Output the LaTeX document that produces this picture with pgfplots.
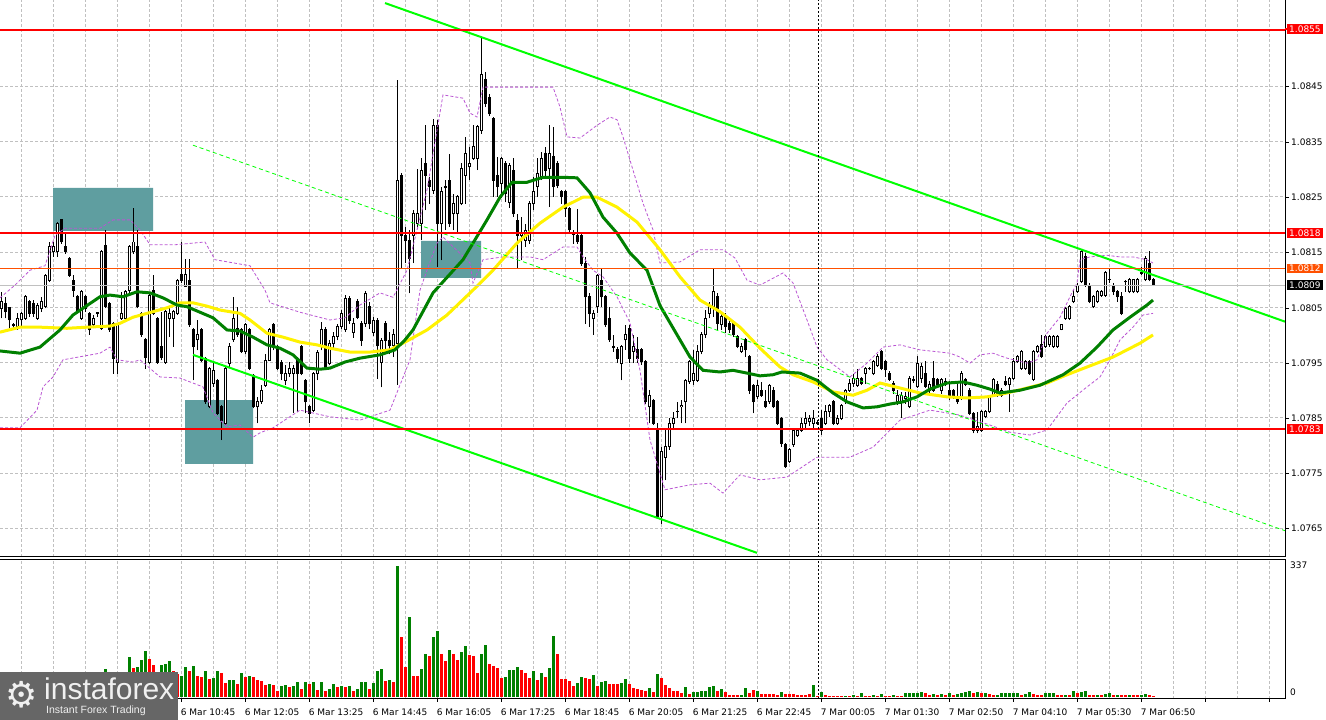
\documentclass[border=0pt]{standalone}
\usepackage{pgfplots}
\pgfplotsset{compat=1.18}
\usepackage{pgfplotstable}
\usepackage{fontspec}
\setmainfont{DejaVu Sans}
\newfontfamily\logofont{Liberation Sans}
\definecolor{tealbox}{RGB}{95,158,160}
\definecolor{gridc}{RGB}{192,192,192}
\definecolor{bandc}{RGB}{186,85,211}
\definecolor{maG}{RGB}{0,128,0}
\definecolor{limeC}{RGB}{0,255,0}
\definecolor{orng}{RGB}{255,80,0}
\definecolor{logog}{RGB}{102,102,102}
\definecolor{volG}{RGB}{0,128,0}
\pgfplotsset{mainax/.style={at={(0pt,163pt)}, anchor=south west, x=1pt, y=5.531pt, disabledatascaling,
  xmin=0, xmax=1285, ymin=59.85, ymax=160.55, axis line style={draw=none}}}
% price columns o h l c are in pips above 1.0700, v = tick volume, g = 1 green / 0 red volume bar
\pgfplotstableread{
i o h l c v g
0 104.8 107.8 103.0 106.0 30 1
1 105.7 106.9 103.0 104.2 45 1
2 104.9 105.1 101.2 102.7 38 0
3 101.8 102.1 101.2 101.7 25 0
4 101.5 103.9 100.9 103.0 40 1
5 102.7 104.2 101.2 103.9 52 1
6 103.0 107.2 102.7 106.9 35 0
7 106.0 106.3 103.3 103.9 28 0
8 105.7 106.3 103.3 103.9 44 1
9 103.0 105.7 102.7 105.4 50 1
10 104.8 106.9 104.2 106.0 33 0
11 105.1 111.1 104.8 110.8 41 1
12 109.9 116.8 109.6 115.9 55 1
13 115.0 116.8 114.1 115.9 47 0
14 115.0 120.5 114.1 120.2 60 1
15 120.9 121.0 116.5 116.8 58 0
16 115.9 118.4 114.7 115.0 42 0
17 113.8 114.1 110.5 110.8 36 0
18 109.9 110.8 106.9 108.1 48 1
19 106.9 107.2 103.9 104.2 39 0
20 103.0 108.1 102.7 107.8 31 0
21 106.9 107.2 104.2 104.8 45 1
22 103.9 104.2 100.0 100.9 50 1
23 101.8 103.6 101.2 103.0 38 0
24 103.9 104.2 103.3 104.0 44 1
25 101.2 115.3 100.9 115.0 41 0
26 116.1 119.0 104.8 105.1 72 1
27 105.7 106.0 100.6 100.9 40 0
28 102.1 102.4 93.0 95.7 55 1
29 95.1 102.1 93.0 101.8 50 0
30 103.0 107.8 102.7 103.9 45 0
31 103.0 108.1 102.7 107.8 58 1
32 108.1 116.2 107.2 115.9 103 1
33 115.0 122.9 114.7 116.8 74 0
34 115.9 119.0 104.8 105.1 77 1
35 103.9 104.2 99.7 100.0 95 1
36 99.1 99.4 93.9 96.0 118 1
37 95.1 107.5 94.8 107.2 98 0
38 108.1 110.8 103.6 103.9 82 0
39 103.0 103.3 94.8 95.1 60 0
40 97.9 104.2 95.4 96.0 82 1
41 95.1 104.5 94.8 104.2 85 1
42 103.0 104.8 99.7 103.9 93 1
43 103.0 104.5 97.9 104.2 67 0
44 103.9 110.2 103.6 109.9 58 0
45 110.9 116.8 109.3 109.9 54 1
46 108.8 113.8 108.7 110.9 77 1
47 109.9 113.8 101.5 101.8 67 0
48 100.9 101.2 91.8 97.9 80 1
49 99.1 102.7 97.2 100.0 54 0
50 100.9 101.2 95.1 95.4 51 0
51 95.7 96.0 87.6 87.9 67 1
52 87.0 94.2 86.7 93.9 46 0
53 91.2 95.1 90.6 93.6 49 1
54 91.8 92.1 85.5 85.8 67 1
55 87.0 87.3 81.0 84.6 62 0
56 84.0 94.2 83.7 93.9 36 0
57 94.8 98.5 94.2 97.9 44 1
58 99.1 106.9 98.8 103.0 44 1
59 101.2 105.1 99.7 100.0 33 0
60 100.9 101.2 96.7 97.0 62 1
61 97.0 102.1 96.5 101.8 51 0
62 100.9 101.2 93.6 93.9 54 1
63 92.7 93.0 86.7 87.0 51 0
64 87.0 88.8 84.0 87.9 44 0
65 87.9 90.9 87.6 90.0 41 0
66 90.9 96.6 90.6 95.4 31 0
67 95.4 101.2 95.4 100.9 33 1
68 101.8 102.1 97.2 97.9 31 0
69 97.9 98.2 93.6 93.9 15 0
70 95.1 95.4 91.8 93.0 28 1
71 91.8 94.5 90.9 93.0 31 1
72 93.0 95.1 92.4 93.9 26 0
73 93.0 94.5 85.8 93.9 28 1
74 95.4 96.0 86.0 93.0 39 1
75 97.9 98.2 92.7 93.0 21 0
76 91.8 92.1 85.8 87.9 39 1
77 87.0 87.3 84.0 85.8 33 0
78 86.4 93.3 86.1 93.0 39 1
79 93.0 97.3 91.8 96.9 18 0
80 97.9 102.4 97.2 100.9 39 1
81 100.9 101.5 93.6 93.9 15 0
82 94.8 99.1 94.5 98.5 21 1
83 98.5 100.5 97.5 99.8 33 1
84 99.8 102.0 99.0 101.5 26 0
85 101.5 104.5 101.0 103.9 28 1
86 100.9 107.2 100.5 106.6 26 0
87 106.6 107.0 102.0 102.6 28 1
88 100.4 103.0 99.5 102.0 15 0
89 106.0 106.5 102.8 103.2 21 1
90 102.0 102.5 98.0 99.0 39 1
91 102.0 108.0 101.5 107.5 39 1
92 105.1 106.0 101.0 102.0 21 0
93 100.5 103.2 99.8 102.6 36 1
94 102.6 103.0 92.0 98.0 67 1
95 95.0 99.5 90.5 99.0 72 1
96 102.0 102.5 97.5 99.0 41 0
97 99.0 100.5 96.5 98.0 44 1
98 98.0 101.0 96.0 100.0 39 0
99 98.5 146.1 91.0 128.0 337 1
100 128.9 129.2 112.0 118.0 153 0
101 118.0 119.5 113.0 117.0 77 0
102 117.1 118.9 107.5 113.8 206 1
103 118.0 122.5 113.0 121.9 54 0
104 120.1 130.0 119.5 121.9 54 0
105 120.1 131.9 117.1 129.8 72 1
106 131.0 137.9 122.5 128.9 111 1
107 128.0 128.6 123.7 126.8 105 0
108 126.2 139.1 125.5 137.9 154 1
109 137.9 138.8 112.3 120.1 170 1
110 120.1 126.8 113.5 125.9 111 0
111 126.8 128.0 119.0 126.6 93 0
112 128.0 132.8 119.5 120.1 121 1
113 121.9 125.5 118.9 123.7 111 0
114 121.9 125.3 118.3 125.0 95 0
115 123.7 131.0 123.4 130.1 116 1
116 128.9 135.8 123.7 132.8 131 1
117 130.4 134.0 128.0 131.0 108 0
118 131.9 137.9 131.6 134.0 105 0
119 131.9 137.9 129.8 137.6 62 0
120 137.0 153.9 136.4 147.0 111 1
121 146.2 147.5 141.2 141.8 134 1
122 143.0 143.5 139.5 140.0 85 0
123 139.1 139.4 125.0 128.0 80 0
124 128.9 132.2 125.0 126.8 75 0
125 127.4 132.2 124.7 131.9 49 0
126 131.0 131.5 124.0 125.6 51 1
127 124.0 131.0 123.0 130.7 69 1
128 129.8 131.9 121.3 121.9 69 1
129 120.7 121.9 112.0 118.0 77 1
130 118.0 121.3 113.5 118.6 69 0
131 117.1 120.1 115.9 118.9 62 0
132 117.1 124.3 116.5 123.7 49 0
133 123.7 128.6 122.5 125.9 67 1
134 126.8 131.9 124.9 129.2 44 0
135 128.6 133.1 128.0 131.9 62 1
136 132.8 134.0 128.6 129.8 51 0
137 130.1 137.9 123.1 132.8 75 1
138 132.2 137.6 125.0 126.8 157 1
139 131.0 131.5 126.5 127.0 111 0
140 125.9 126.2 123.7 125.0 46 0
141 125.9 126.2 121.3 122.8 46 0
142 122.8 123.1 118.6 119.0 41 0
143 118.4 119.0 116.5 118.2 28 0
144 118.0 122.8 116.5 116.8 36 1
145 118.0 118.3 112.5 112.9 51 1
146 112.9 114.1 102.0 106.9 49 0
147 106.9 107.5 101.5 103.9 46 0
148 103.0 104.5 100.0 103.9 57 1
149 105.1 111.1 103.9 110.8 28 0
150 109.9 112.0 105.1 106.9 39 1
151 106.9 107.2 101.5 101.8 41 1
152 103.0 105.1 98.8 99.1 33 0
153 97.9 100.0 97.0 97.7 33 0
154 97.3 97.9 94.9 95.8 33 0
155 94.8 98.2 91.8 97.9 36 1
156 99.1 101.8 97.3 100.0 46 1
157 101.2 101.8 94.9 95.8 33 0
158 97.0 100.0 94.9 97.9 23 0
159 97.3 99.7 94.9 95.8 21 0
160 97.3 97.6 94.6 95.2 18 0
161 95.2 95.5 87.6 87.9 15 0
162 87.0 90.0 84.0 89.1 23 1
163 88.2 88.5 83.7 84.0 13 0
164 83.1 84.0 66.8 67.1 59 1
165 67.1 79.8 65.9 78.9 49 0
166 77.9 82.8 73.7 79.8 31 0
167 79.8 84.9 79.2 84.0 23 0
168 84.0 86.1 82.8 84.9 15 0
169 86.2 87.9 84.9 86.1 15 0
170 87.0 88.2 84.0 87.3 10 0
171 87.9 92.1 84.0 91.8 26 1
172 91.5 95.5 91.2 95.2 8 0
173 91.8 97.3 91.0 93.0 13 1
174 91.8 98.2 91.5 97.0 13 1
175 97.0 100.5 96.5 100.0 15 1
176 100.0 104.5 99.5 103.0 15 1
177 103.9 106.0 103.0 105.1 26 1
178 105.1 112.0 103.3 107.8 28 1
179 106.9 107.5 100.9 102.1 15 0
180 101.8 103.9 100.9 103.3 21 1
181 103.3 103.9 100.3 101.5 13 0
182 102.0 102.5 100.3 100.9 5 0
183 102.1 102.4 99.7 100.0 5 0
184 99.7 100.0 97.6 97.9 4 0
185 97.0 98.5 96.8 97.9 5 1
186 99.1 99.4 96.0 97.3 23 1
187 96.1 96.4 89.4 90.0 10 0
188 90.9 91.2 85.8 87.9 18 0
189 88.8 91.8 88.5 90.9 15 1
190 90.0 91.5 88.8 89.1 8 0
191 87.9 90.0 86.7 87.0 8 0
192 87.9 91.2 87.6 90.9 8 0
193 90.0 90.6 86.7 87.0 8 0
194 87.9 88.2 83.7 84.0 6 0
195 84.9 85.2 79.8 80.4 13 1
196 80.1 80.4 75.9 76.2 8 0
197 77.1 79.5 76.8 79.2 7 0
198 80.1 83.1 79.8 82.8 8 0
199 81.9 83.1 81.6 82.8 6 0
200 82.8 84.9 82.5 84.0 5 0
201 84.0 86.1 82.8 84.9 5 0
202 84.3 85.5 83.5 84.9 8 0
203 84.0 86.4 82.8 84.9 31 1
204 84.0 84.6 83.7 84.1 3 0
205 84.9 86.4 81.9 82.8 13 1
206 84.0 87.3 83.7 86.1 4 0
207 86.1 87.6 85.2 87.3 3 0
208 87.9 88.2 83.7 84.0 3 0
209 84.0 85.5 83.7 84.9 3 0
210 84.9 87.6 84.6 87.3 2 0
211 87.9 90.3 87.6 90.0 3 1
212 90.0 92.1 89.7 91.2 2 0
213 91.2 93.0 90.6 92.1 4 1
214 90.9 93.9 90.6 92.1 2 0
215 92.1 92.4 90.9 91.2 10 1
216 93.0 94.2 91.2 93.9 3 0
217 94.0 94.2 93.6 93.9 2 0
218 93.0 95.5 92.7 95.2 4 1
219 94.5 96.6 94.2 96.1 3 0
220 97.0 97.3 93.6 94.0 8 1
221 95.2 95.5 92.4 93.7 3 0
222 93.1 93.4 91.6 91.9 2 0
223 91.3 91.6 89.4 90.0 4 1
224 87.9 90.0 87.3 89.1 3 0
225 87.9 89.7 84.9 89.1 3 0
226 88.5 89.7 87.6 88.8 10 1
227 87.0 92.5 86.7 92.2 10 1
228 91.9 92.5 91.3 91.8 10 1
229 90.6 96.1 90.4 94.9 10 1
230 92.2 94.9 91.3 94.3 12 1
231 93.1 95.2 90.4 90.7 10 0
232 90.0 91.6 89.4 91.0 6 0
233 92.2 95.2 89.7 90.0 8 1
234 91.9 92.2 90.7 91.0 5 0
235 90.0 92.2 89.4 91.9 8 1
236 91.6 92.2 90.7 91.0 6 0
237 90.0 91.6 88.2 89.1 10 1
238 90.0 90.3 88.5 88.8 6 0
239 88.8 91.3 87.6 87.9 8 1
240 88.5 93.4 88.2 93.1 10 1
241 91.9 92.2 90.7 91.0 12 1
242 90.0 90.4 85.5 85.8 15 1
243 85.8 86.1 82.2 82.8 10 0
244 82.8 86.1 82.2 83.4 13 1
245 82.8 86.4 82.5 86.1 10 0
246 85.2 86.4 84.9 86.1 10 1
247 86.1 89.1 85.8 88.8 8 0
248 89.1 92.2 88.8 91.9 5 0
249 91.0 91.6 88.8 89.1 6 1
250 89.1 90.4 88.8 90.0 10 1
251 91.6 92.5 90.7 91.0 10 1
252 91.0 92.4 86.1 92.2 10 1
253 92.2 95.8 91.9 95.2 10 1
254 95.2 96.4 94.9 96.1 10 1
255 94.0 97.3 93.7 97.0 6 0
256 94.0 95.5 93.7 95.2 8 1
257 95.2 95.5 92.8 93.1 13 1
258 91.9 97.3 91.6 97.0 8 0
259 97.0 98.2 96.7 97.9 6 0
260 98.2 100.0 95.8 96.1 5 0
261 97.9 100.0 97.6 99.7 10 1
262 98.2 100.0 97.9 99.8 10 1
263 97.9 100.0 97.6 99.7 10 1
264 97.9 100.0 97.6 99.8 6 0
265 101.0 102.0 100.8 101.8 5 0
266 103.0 105.1 102.7 104.8 6 1
267 103.0 105.4 102.7 105.1 5 0
268 106.0 108.1 105.7 106.9 15 1
269 107.8 109.4 107.5 109.0 10 0
270 109.7 115.4 109.4 115.1 13 1
271 114.2 114.8 108.7 109.0 15 1
272 109.0 109.4 105.7 106.0 5 0
273 105.1 107.2 104.8 106.9 4 0
274 106.0 108.1 105.7 107.8 6 1
275 107.2 108.1 106.9 107.8 4 0
276 107.2 111.5 106.9 111.2 8 1
277 110.1 112.1 109.4 110.0 10 1
278 109.0 109.4 107.2 107.8 5 0
279 107.8 108.1 106.0 106.9 6 1
280 106.9 107.8 103.6 103.9 5 0
281 109.7 110.0 107.8 109.6 4 0
282 107.8 110.3 107.5 110.0 6 1
283 107.8 110.1 107.5 110.0 5 0
284 107.8 110.3 107.5 110.0 4 0
285 111.2 112.3 110.9 111.1 5 1
286 110.0 114.2 109.7 113.9 8 1
287 113.0 115.1 109.7 110.0 4 0
288 110.0 110.3 108.8 109.1 2 0
}\candles

\begin{document}
\begin{tikzpicture}
\useasboundingbox (0pt,0pt) rectangle (1326pt,720pt);
\fill[white] (0pt,0pt) rectangle (1326pt,720pt);
% axis A: grid and zones
\begin{axis}[mainax,
  xtick={53.7,117.7,...,1269.7}, minor xtick={21.7,85.7,...,1237.7},
  ytick={65,75,...,145},
  xticklabels={}, yticklabels={},
  xmajorgrids, xminorgrids, ymajorgrids,
  major tick length=0pt, minor tick length=0pt,
  grid style={gridc, dash pattern=on 3pt off 2pt, line width=0.8pt},
]
\addplot[fill=tealbox, draw=none] coordinates {(53,126.6) (153,126.6) (153,118.8) (53,118.8) (53,126.6)};
\addplot[fill=tealbox, draw=none] coordinates {(185,88.2) (253,88.2) (253,76.7) (185,76.7) (185,88.2)};
\addplot[fill=tealbox, draw=none] coordinates {(421,117.0) (481,117.0) (481,110.3) (421,110.3) (421,117.0)};
\end{axis}
% axis B: candles
\begin{axis}[mainax, ticks=none]
\addplot[black, line width=1pt, quiver={u=0, v={\thisrow{h}-\thisrow{l}}}]
  table[x expr=1.7+4*\thisrow{i}, y=l] {\candles};
\addplot[black, line width=3pt, quiver={u=0, v={abs(\thisrow{c}-\thisrow{o})+0.18}}]
  table[x expr=1.7+4*\thisrow{i}, y expr={min(\thisrow{o},\thisrow{c})-0.09}] {\candles};
\addplot[white, line width=1pt, quiver={u=0, v={max(0,\thisrow{c}-\thisrow{o}-0.18)}}]
  table[x expr=1.7+4*\thisrow{i}, y expr={min(\thisrow{o},\thisrow{c})+0.09}] {\candles};
\end{axis}
% axis C: indicators and levels
\begin{axis}[mainax, ticks=none]
\addplot[bandc, line width=0.8pt, dash pattern=on 3pt off 2pt] coordinates {
(0,106.7)(15,109.0)(30,111.7)(45,112.5)(55,118.0)(65,119.3)(100,119.3)(113,120.8)(130,120.8)(140,119.0)(150,116.3)(175,116.3)(205,116.8)(215,113.6)(250,112.5)(265,108.1)(270,105.8)(300,104.1)(330,102.7)(345,103.1)(360,105.4)(380,107.6)(393,106.8)(407,111.7)(427,126.2)(437,137.0)(443,143.4)(463,142.8)(470,140.1)(477,139.4)(483,144.8)(503,144.8)(530,144.8)(553,144.8)(560,141.2)(567,135.8)(580,135.6)(597,137.9)(610,139.4)(617,138.9)(623,135.8)(633,129.8)(643,123.8)(653,119.0)(660,113.0)(680,113.2)(700,115.4)(723,115.4)(735,113.9)(747,109.9)(760,109.0)(783,111.2)(793,109.4)(807,102.7)(817,97.8)(827,95.5)(850,92.4)(867,94.9)(883,97.8)(900,98.2)(920,97.3)(950,96.7)(960,96.0)(970,94.9)(980,96.4)(993,96.7)(1007,95.8)(1027,94.9)(1037,95.5)(1047,100.3)(1060,103.2)(1070,106.9)(1077,109.4)(1080,113.6)(1090,114.1)(1107,114.4)(1120,114.1)(1133,114.1)(1147,113.6)(1153,113.0)};
\addplot[bandc, line width=0.8pt, dash pattern=on 3pt off 2pt] coordinates {
(0,83.2)(20,83.2)(37,86.4)(43,90.6)(53,92.4)(63,95.5)(100,96.7)(110,97.8)(117,95.5)(133,95.1)(140,95.5)(160,92.4)(180,92.2)(203,90.6)(213,85.9)(227,83.4)(240,83.7)(253,81.5)(260,82.3)(273,83.2)(300,86.4)(330,85.2)(360,84.6)(390,86.4)(410,95.5)(420,108.1)(427,111.7)(437,116.6)(443,117.7)(470,113.0)(473,109.4)(483,113.6)(503,114.1)(530,114.1)(543,113.6)(563,115.9)(577,115.9)(583,114.1)(593,111.7)(603,110.5)(617,106.9)(630,102.2)(640,93.6)(650,81.0)(665,72.0)(690,72.9)(710,73.2)(723,71.4)(740,74.7)(760,73.8)(787,74.3)(817,77.9)(850,77.9)(873,79.7)(900,84.6)(930,86.4)(960,85.5)(990,83.7)(1010,82.4)(1030,81.9)(1047,82.8)(1067,87.7)(1087,90.6)(1100,92.4)(1110,95.5)(1120,99.1)(1133,101.4)(1143,103.6)(1153,103.9)};
\addplot[yellow, line width=3pt] coordinates {
(0,100.5)(20,101.4)(40,101.4)(67,101.2)(87,101.4)(110,101.6)(120,102.1)(133,103.2)(153,104.2)(167,104.9)(180,105.8)(193,105.8)(207,105.2)(220,104.5)(240,103.9)(250,102.7)(267,100.3)(283,99.6)(300,98.7)(317,98.2)(330,97.6)(350,96.9)(370,96.9)(390,97.3)(405,98.7)(427,100.9)(447,103.6)(473,108.1)(493,111.7)(517,116.6)(540,120.2)(563,123.1)(583,124.9)(597,124.9)(617,123.1)(637,120.4)(660,115.4)(680,110.5)(700,106.3)(720,104.2)(740,101.4)(760,97.6)(780,94.2)(793,92.8)(813,91.5)(833,89.7)(853,89.1)(867,90.0)(880,91.3)(900,90.4)(920,89.5)(947,88.8)(967,88.6)(987,88.8)(1007,89.5)(1027,90.4)(1047,91.3)(1067,92.8)(1087,94.2)(1113,96.0)(1140,98.5)(1153,100.0)};
\addplot[maG, line width=3pt] coordinates {
(0,97.1)(20,96.7)(40,97.8)(60,100.9)(73,103.6)(100,106.9)(110,107.2)(123,106.9)(137,107.8)(150,107.6)(163,106.7)(177,105.4)(187,105.1)(200,104.1)(213,103.1)(227,100.9)(240,100.7)(253,99.6)(267,98.2)(280,97.6)(293,96.4)(307,94.0)(320,93.8)(330,94.0)(345,95.1)(360,95.8)(380,96.4)(395,97.3)(405,99.1)(413,100.9)(433,107.6)(463,113.6)(487,120.8)(500,124.9)(512,127.6)(527,127.6)(543,128.5)(563,128.5)(577,128.4)(590,125.7)(603,121.3)(617,118.4)(630,114.8)(647,111.7)(660,105.3)(680,99.1)(690,96.0)(703,93.6)(720,93.3)(733,93.6)(747,93.1)(760,92.6)(773,92.8)(782,93.3)(800,93.1)(817,91.8)(833,89.5)(847,87.9)(863,86.8)(877,87.0)(890,87.5)(903,87.9)(917,88.8)(930,90.2)(947,91.3)(963,91.5)(977,90.9)(990,90.2)(1000,89.5)(1020,90.0)(1040,90.9)(1063,92.8)(1080,94.9)(1097,97.8)(1113,100.9)(1130,103.2)(1147,105.4)(1153,106.3)};
\addplot[limeC, line width=2pt] coordinates {(385,160.0) (1285,102.4)};
\addplot[limeC, line width=2pt] coordinates {(193,96.4) (757,60.6)};
\addplot[limeC, line width=0.8pt, dash pattern=on 4pt off 3pt] coordinates {(193,134.3) (1285,64.6)};
\addplot[red, line width=2pt] coordinates {(0,155.2) (1285,155.2)};
\addplot[red, line width=2pt] coordinates {(0,118.4) (1285,118.4)};
\addplot[orng, line width=1pt] coordinates {(0,112.0) (1285,112.0)};
\addplot[gridc, line width=1pt] coordinates {(0,109.0) (1285,109.0)};
\addplot[red, line width=2pt] coordinates {(0,83.0) (1285,83.0)};
\addplot[black, line width=0.8pt, dash pattern=on 2pt off 2pt] coordinates {(818,59.85) (818,160.55)};
\end{axis}

\begin{axis}[
  at={(0pt,21pt)}, anchor=south west,
  x=1pt, y=0.389pt, disabledatascaling,
  xmin=0, xmax=1285, ymin=-5.14, ymax=352.2,
  axis line style={draw=none},
  xtick={53.7,117.7,...,1269.7}, minor xtick={21.7,85.7,...,1237.7},
  xticklabels={,,6 Mar 10:45,6 Mar 12:05,6 Mar 13:25,6 Mar 14:45,6 Mar 16:05,6 Mar 17:25,6 Mar 18:45,6 Mar 20:05,6 Mar 21:25,6 Mar 22:45,7 Mar 00:05,7 Mar 01:30,7 Mar 02:50,7 Mar 04:10,7 Mar 05:30,7 Mar 06:50,,},
  xmajorgrids, xminorgrids,
  grid style={gridc, dash pattern=on 3pt off 2pt, line width=0.8pt},
  xtick pos=bottom, tick align=outside, major tick length=3pt, minor tick length=0pt,
  tick style={black, line width=0.8pt},
  xticklabel style={anchor=north west, font=\fontsize{9}{10}\selectfont, inner sep=0pt, xshift=-1pt, yshift=-7pt},
  ytick=\empty,
]
\addplot[ycomb, no markers, line width=3pt, volG] table[x expr=1.7+4*\thisrow{i}, y expr=\thisrow{v}*\thisrow{g}] {\candles};
\addplot[ycomb, no markers, line width=3pt, red] table[x expr=1.7+4*\thisrow{i}, y expr=\thisrow{v}*(1-\thisrow{g})] {\candles};
\addplot[black, line width=0.8pt, dash pattern=on 2pt off 2pt] coordinates {(818,-5.14) (818,352.2)};
\end{axis}

% frame
\draw[black, line width=1pt] (1285pt,163pt) -- (1285pt,720pt);
\draw[black, line width=1pt] (0pt,163pt) -- (1285pt,163pt);
\draw[black, line width=1pt] (0pt,160pt) -- (1285pt,160pt) -- (1285pt,21pt) -- (0pt,21pt);
% right-hand price scale (tick marks and labels)
\foreach \yy/\tx in {634/1.0845, 578/1.0835, 523/1.0825, 468/1.0815, 412/1.0805, 357/1.0795, 302/1.0785, 247/1.0775, 192/1.0765} {
  \draw[black, line width=0.8pt] (1285pt,\yy pt) -- (1289pt,\yy pt);
  \node[anchor=west, inner sep=0pt, font=\fontsize{9}{10}\selectfont] at (1291pt,\yy pt) {\tx};
}
\tikzset{pbox/.style={anchor=west, inner xsep=2pt, inner ysep=1.5pt, text=white, font=\fontsize{9}{10}\selectfont}}
\draw[red, line width=2pt] (1285pt,691pt) -- (1289pt,691pt);
\node[pbox, fill=red] at (1287pt,691pt) {1.0855};
\node[pbox, fill=red] at (1287pt,487pt) {1.0818};
\node[pbox, fill=orng] at (1287pt,451.5pt) {1.0812};
\node[pbox, fill=black] at (1287pt,435pt) {1.0809};
\node[pbox, fill=red] at (1287pt,291pt) {1.0783};
\node[anchor=west, inner sep=0pt, font=\fontsize{9}{10}\selectfont] at (1290pt,155pt) {337};
\node[anchor=west, inner sep=0pt, font=\fontsize{9}{10}\selectfont] at (1290pt,28pt) {0};
% logo
\fill[logog] (0pt,0pt) rectangle (178pt,48pt);
\node[text=white!88!gray, font=\fontsize{36}{36}\selectfont, inner sep=0pt] at (22pt,25pt) {⚙};
\node[anchor=base west, inner sep=0pt, text=white!88!gray, font=\logofont\fontsize{30}{30}\selectfont] at (44pt,20pt) {instaforex};
\node[anchor=base west, inner sep=0pt, text=white!88!gray, font=\logofont\fontsize{10.5}{11}\selectfont] at (46pt,6pt) {Instant Forex Trading};
\end{tikzpicture}
\end{document}
